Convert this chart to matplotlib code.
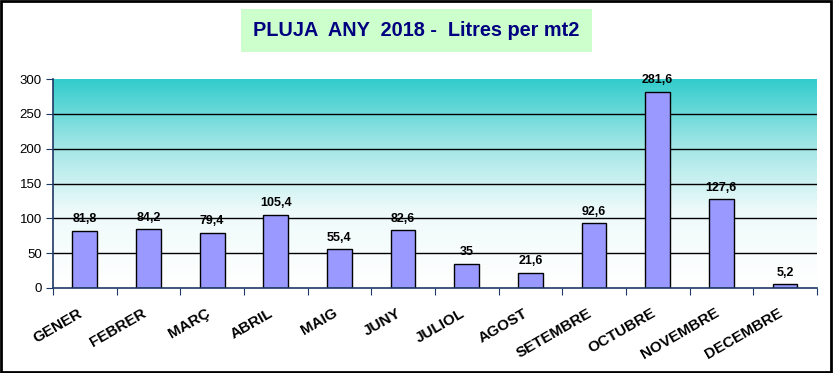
import numpy as np
import matplotlib
matplotlib.use("Agg")
import matplotlib.pyplot as plt
from matplotlib.colors import LinearSegmentedColormap
from matplotlib.patches import Rectangle

# data
mesos = ['GENER', 'FEBRER', 'MARÇ', 'ABRIL', 'MAIG', 'JUNY', 'JULIOL',
         'AGOST', 'SETEMBRE', 'OCTUBRE', 'NOVEMBRE', 'DECEMBRE']
pluja = [81.8, 84.2, 79.4, 105.4, 55.4, 82.6, 35, 21.6, 92.6, 281.6, 127.6, 5.2]
etiquetes = ['81,8', '84,2', '79,4', '105,4', '55,4', '82,6', '35',
             '21,6', '92,6', '281,6', '127,6', '5,2']
yticks = [0, 50, 100, 150, 200, 250, 300]

plt.rcParams['font.family'] = ['Liberation Sans', 'DejaVu Sans']

fig = plt.figure(figsize=(8.33, 3.73), dpi=100)
ax = fig.add_axes([0.0636, 0.228, 0.917, 0.560])

x = np.arange(len(mesos))
ax.set_xlim(-0.5, len(mesos) - 0.5)
ax.set_ylim(0, 300)

# fons degradat (blanc -> turquesa)
cmap = LinearSegmentedColormap.from_list('fons', ['#ffffff', '#eefafa', '#9fe5e5', '#33cccc'])
grad = np.linspace(0, 1, 256).reshape(-1, 1) ** 1.1
ax.imshow(grad, aspect='auto', cmap=cmap, origin='lower',
          extent=[-0.5, len(mesos) - 0.5, 0, 300], zorder=0)

for yv in yticks[1:-1]:
    ax.axhline(yv, color='black', lw=1, zorder=1)

ax.bar(x, pluja, width=0.39, color='#9999ff', edgecolor='black', lw=1, zorder=2)
for xi, v, t in zip(x, pluja, etiquetes):
    ax.annotate(t, (xi, v), xytext=(0, 4), textcoords='offset points',
                ha='center', va='bottom', fontsize=9, fontweight='bold', zorder=3)

ax.set_yticks(yticks)
ax.set_yticklabels([str(v) for v in yticks], fontsize=9.5)
ax.set_xticks(np.arange(-0.5, len(mesos), 1.0))
ax.set_xticklabels([])
ax.set_xticks(x, minor=True)
ax.set_xticklabels(mesos, minor=True, rotation=30, ha='right',
                   fontsize=11, fontweight='bold')
ax.tick_params(axis='x', which='minor', length=0, pad=13)
ax.tick_params(axis='x', which='major', length=5, color='#1f3864', direction='out')
ax.tick_params(axis='y', length=5, color='#1f3864', direction='out', pad=3)

for s in ['top', 'right']:
    ax.spines[s].set_visible(False)
for s in ['left', 'bottom']:
    ax.spines[s].set_color('#1f3864')
    ax.spines[s].set_linewidth(1.2)

# titol en caixa verda
fig.text(0.5, 0.918, 'PLUJA  ANY  2018 -  Litres per mt2', ha='center', va='center',
         fontsize=14.3, fontweight='bold', color='#000080',
         bbox=dict(boxstyle='square,pad=0.6', facecolor='#ccffcc', edgecolor='none'))

# marc de la figura
fig.patches.append(Rectangle((0.001, 0.003), 0.996, 0.994, transform=fig.transFigure,
                             fill=False, edgecolor='black', lw=2))

fig.savefig('out.png', dpi=100)
